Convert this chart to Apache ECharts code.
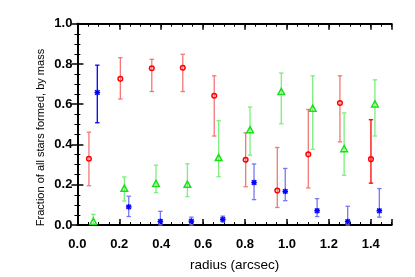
<!DOCTYPE html>
<html>
<head>
<meta charset="utf-8">
<script src="https://cdn.jsdelivr.net/npm/echarts@6/dist/echarts.min.js"></script>
<style>html,body{margin:0;padding:0;background:#fff}#c{width:415px;height:277px}</style>
</head>
<body>
<div id="c"></div>
<script>
// ---- data ----
const redX  = [0.055,0.205,0.355,0.503,0.653,0.803,0.954,1.102,1.253,1.401];
const redY  = [0.329,0.726,0.779,0.781,0.642,0.324,0.171,0.351,0.606,0.327];
const redLo = [0.195,0.626,0.663,0.663,0.442,0.190,0.087,0.184,0.413,0.208];
const redHi = [0.461,0.831,0.823,0.848,0.741,0.458,0.385,0.574,0.741,0.523];

const greenX  = [0.076,0.224,0.375,0.525,0.674,0.824,0.973,1.123,1.273,1.420];
const greenY  = [0.015,0.179,0.203,0.199,0.332,0.470,0.660,0.577,0.376,0.598];
const greenLo = [0.003,0.119,0.161,0.141,0.240,0.347,0.503,0.376,0.247,0.442];
const greenHi = [0.053,0.239,0.297,0.304,0.518,0.586,0.755,0.741,0.557,0.721];

const blueX  = [0.095,0.245,0.396,0.544,0.694,0.843,0.992,1.144,1.290,1.441];
const blueY  = [0.658,0.090,0.018,0.019,0.028,0.211,0.167,0.071,0.017,0.071];
const blueLo = [0.508,0.042,0.000,0.000,0.015,0.126,0.121,0.042,0.000,0.039];
const blueHi = [0.794,0.143,0.068,0.039,0.044,0.303,0.281,0.131,0.093,0.181];

const xTickLabels = ['0.0','0.2','0.4','0.6','0.8','1.0','1.2','1.4'];
const yTickLabels = ['0.0','0.2','0.4','0.6','0.8','1.0'];

// ---- build ----
function rows(xs, ys, lo, hi){ return xs.map((x,i)=>[x, ys[i], lo[i], hi[i]]); }

const FONT = 'Liberation Sans, Arial, Helvetica, sans-serif';

function makeRender(kind, barColor, markColor, solidIdx){
  return function(params, api){
    const x = api.value(0);
    const p  = api.coord([x, api.value(1)]);
    const lo = api.coord([x, api.value(2)]);
    const hi = api.coord([x, api.value(3)]);
    const bc = solidIdx.indexOf(params.dataIndex) >= 0 ? markColor : barColor;
    const bs = {stroke: bc, lineWidth: 1.3};
    const cw = 2.2;
    const ch = [
      {type:'line', shape:{x1:hi[0],y1:hi[1],x2:lo[0],y2:lo[1]}, style:bs},
      {type:'line', shape:{x1:hi[0]-cw,y1:hi[1],x2:hi[0]+cw,y2:hi[1]}, style:bs},
      {type:'line', shape:{x1:lo[0]-cw,y1:lo[1],x2:lo[0]+cw,y2:lo[1]}, style:bs}
    ];
    const ms = {stroke: markColor, lineWidth: 1.5, fill: 'none'};
    if (kind === 'circle') {
      ch.push({type:'circle', shape:{cx:p[0], cy:p[1], r:2.3}, style:ms});
    } else if (kind === 'triangle') {
      ch.push({type:'polygon', shape:{points:[[p[0],p[1]-3.8],[p[0]-3.3,p[1]+2.4],[p[0]+3.3,p[1]+2.4]]}, style:ms});
    } else {
      const s = 2.8, d = 2.2;
      ch.push({type:'line', shape:{x1:p[0]-s,y1:p[1],x2:p[0]+s,y2:p[1]}, style:ms});
      ch.push({type:'line', shape:{x1:p[0],y1:p[1]-s,x2:p[0],y2:p[1]+s}, style:ms});
      ch.push({type:'line', shape:{x1:p[0]-d,y1:p[1]-d,x2:p[0]+d,y2:p[1]+d}, style:ms});
      ch.push({type:'line', shape:{x1:p[0]-d,y1:p[1]+d,x2:p[0]+d,y2:p[1]-d}, style:ms});
    }
    return {type:'group', children: ch};
  };
}

function fmtMajor(labels){
  return function(v){
    const k = Math.round(v/0.2);
    if (Math.abs(v/0.2 - k) > 1e-6) return '';
    return labels[k] !== undefined ? labels[k] : '';
  };
}

const axisLineStyle = {show:true, lineStyle:{color:'#000', width:2}};
function xAx(pos, major, labels){
  return {
    type:'value', position:pos, min:0, max:1.5, interval: major ? 0.2 : 0.05,
    axisLine: major ? axisLineStyle : {show:false},
    axisTick:{show:true, inside:true, length: major ? 6 : 3, lineStyle:{color:'#000', width: major ? 1.5 : 1}},
    axisLabel: labels ? {show:true, color:'#000', fontFamily:FONT, fontWeight:'bold', fontSize:13, margin:13, formatter: fmtMajor(xTickLabels)} : {show:false},
    splitLine:{show:false},
    name: labels ? 'radius (arcsec)' : '',
    nameLocation:'middle', nameGap:33,
    nameTextStyle:{color:'#000', fontFamily:FONT, fontSize:13.5}
  };
}
function yAx(pos, labels){
  return {
    type:'value', position:pos, min:0, max:1, interval:0.2,
    axisLine: axisLineStyle,
    axisTick:{show:true, inside:true, length:6, lineStyle:{color:'#000', width:1.5}},
    minorTick:{show:true, splitNumber:4, length:3, lineStyle:{color:'#000', width:1}},
    axisLabel: labels ? {show:true, color:'#000', fontFamily:FONT, fontWeight:'bold', fontSize:13, margin:5, formatter: fmtMajor(yTickLabels)} : {show:false},
    splitLine:{show:false}, minorSplitLine:{show:false}
  };
}

const chart = echarts.init(document.getElementById('c'), null, {renderer:'canvas'});
chart.setOption({
  animation:false,
  backgroundColor:'#fff',
  grid:{left:77.4, right:23.3, top:23.7, bottom:46.7, containLabel:false},
  xAxis:[ xAx('bottom', true, true), xAx('bottom', false, false), xAx('top', true, false), xAx('top', false, false) ],
  yAxis:[ yAx('left', true), yAx('right', false) ],
  graphic:[{
    type:'text', x:41, y:137.5, rotation:Math.PI/2,
    style:{text:'Fraction of all stars formed, by mass', fill:'#000', font:'11px ' + FONT, textAlign:'center', textVerticalAlign:'middle'}
  }],
  series:[
    {type:'custom', xAxisIndex:0, yAxisIndex:0, data: rows(redX, redY, redLo, redHi),
     renderItem: makeRender('circle', '#f47777', '#ff0000', [9]), encode:{x:0, y:1}},
    {type:'custom', xAxisIndex:0, yAxisIndex:0, data: rows(greenX, greenY, greenLo, greenHi),
     renderItem: makeRender('triangle', '#7cef7c', '#19e019', []), encode:{x:0, y:1}},
    {type:'custom', xAxisIndex:0, yAxisIndex:0, data: rows(blueX, blueY, blueLo, blueHi),
     renderItem: makeRender('star', '#7777f2', '#0000ff', [0]), encode:{x:0, y:1}}
  ]
});
</script>
</body>
</html>
